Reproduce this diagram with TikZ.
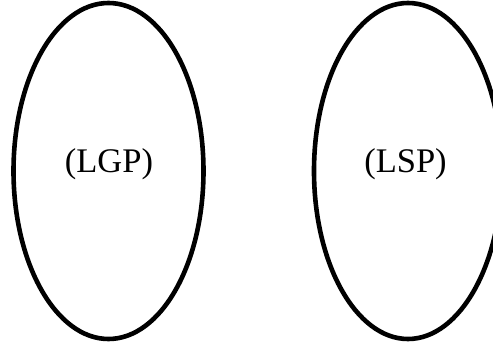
\documentclass[tikz,border=0pt]{standalone}
\usepackage{fontspec}
\setmainfont{Liberation Serif}
\usetikzlibrary{shapes.geometric}
\begin{document}
\begin{tikzpicture}[x=1pt, y=-1pt,
  region/.style={ellipse, draw=black, line width=4.6pt, inner sep=0pt,
                 minimum width=190pt, minimum height=336pt},
  regionlabel/.style={anchor=base, inner sep=0pt, font=\fontsize{34.5}{40}\selectfont}]
  \useasboundingbox (0,0) rectangle (493,345);
  \clip (0,0) rectangle (493,345);
  % the two regions
  \node[region] (lgp) at (108.5,171) {};
  \node[region, minimum width=188pt] (lsp) at (408,171) {};
  % their labels
  \node[regionlabel] (lgptext) at (109,172.7) {(LGP)};
  \node[regionlabel] (lsptext) at (405.5,172.7) {(LSP)};
\end{tikzpicture}
\end{document}
